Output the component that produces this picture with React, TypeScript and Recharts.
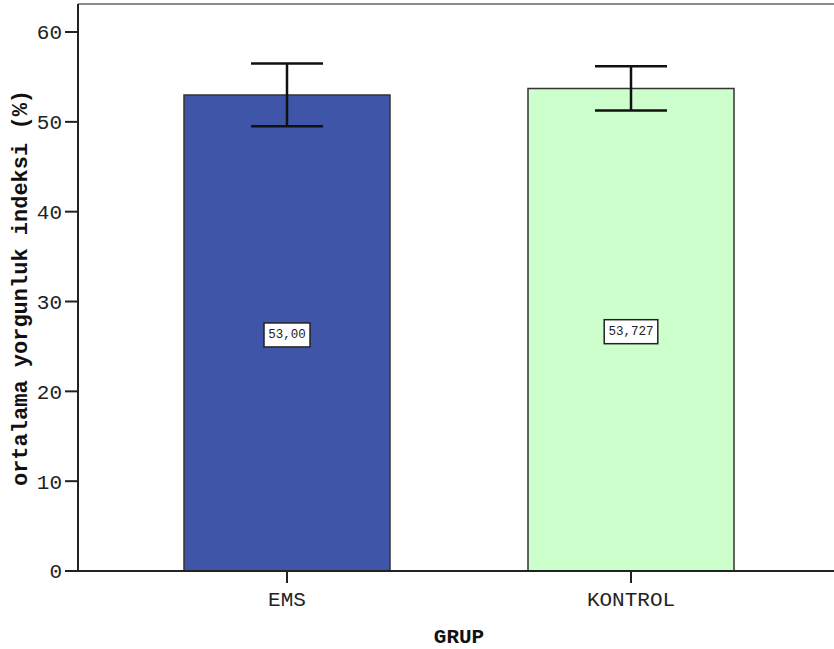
import React from 'react';
import { BarChart, Bar, XAxis, YAxis, ErrorBar, Cell, LabelList, ReferenceLine } from 'recharts';

const categories = ['EMS', 'KONTROL'];
const means = [53.0, 53.727];
const errors = [3.5, 2.45];
const valueLabels = ['53,00', '53,727'];
const barColors = ['#3E55A8', '#CCFFCC'];
const yTicks = [0, 10, 20, 30, 40, 50, 60];
const yMax = 63.12;

const data = categories.map((c, i) => ({ name: c, mean: means[i], err: errors[i], label: valueLabels[i] }));

const FONT = '"Liberation Mono", "DejaVu Sans Mono", monospace';

const BoxLabel = (props: any) => {
  const { x, y, width, height, index } = props;
  const txt = valueLabels[index];
  const cx = x + width / 2;
  const cy = y + height / 2 + 2;
  const w = txt.length * 7.6 + 8;
  const h = 24;
  return (
    <g>
      <rect x={cx - w / 2} y={cy - h / 2} width={w} height={h} fill="#fff" stroke="#222" strokeWidth={1.5} />
      <text x={cx} y={cy} textAnchor="middle" dominantBaseline="central" fontFamily={FONT} fontSize={12.5} fill="#222">
        {txt}
      </text>
    </g>
  );
};

export default function App() {
  return (
    <div style={{ position: 'absolute', left: 0, top: 0, width: 834, height: 649, overflow: 'hidden', background: '#fff' }}>
      <BarChart width={850} height={649} data={data} margin={{ top: 4, right: 10, left: 0, bottom: 0 }}>
        <XAxis
          dataKey="name"
          height={78}
          padding={{ left: 37, right: 37 }}
          tickSize={12}
          tickMargin={8}
          axisLine={{ stroke: '#222', strokeWidth: 2 }}
          tickLine={{ stroke: '#222', strokeWidth: 2 }}
          tick={{ fontFamily: FONT, fontSize: 21, fill: '#222' }}
          label={{ value: 'GRUP', position: 'insideBottom', offset: 6, fontFamily: FONT, fontSize: 21, fontWeight: 'bold', fill: '#111' }}
        />
        <YAxis
          width={78}
          domain={[0, yMax]}
          ticks={yTicks}
          tickSize={13}
          tickMargin={3}
          axisLine={{ stroke: '#222', strokeWidth: 2 }}
          tickLine={{ stroke: '#222', strokeWidth: 2 }}
          tick={{ fontFamily: FONT, fontSize: 21, fill: '#222' }}
          label={{
            content: () => (
              <text x={27} y={288} transform="rotate(-90 27 288)" textAnchor="middle" fontFamily={FONT} fontSize={22} fontWeight="bold" fill="#111">
                ortalama yorgunluk indeksi (%)
              </text>
            ),
          }}
        />
        <ReferenceLine y={yMax} stroke="#8a8a8a" strokeWidth={2} ifOverflow="visible" />
        <Bar dataKey="mean" barSize={206} stroke="#333" strokeWidth={1.5} isAnimationActive={false}>
          {data.map((d, i) => (
            <Cell key={d.name} fill={barColors[i]} />
          ))}
          <LabelList dataKey="label" content={BoxLabel} />
          <ErrorBar dataKey="err" width={36} stroke="#111" strokeWidth={2.5} direction="y" />
        </Bar>
      </BarChart>
    </div>
  );
}
